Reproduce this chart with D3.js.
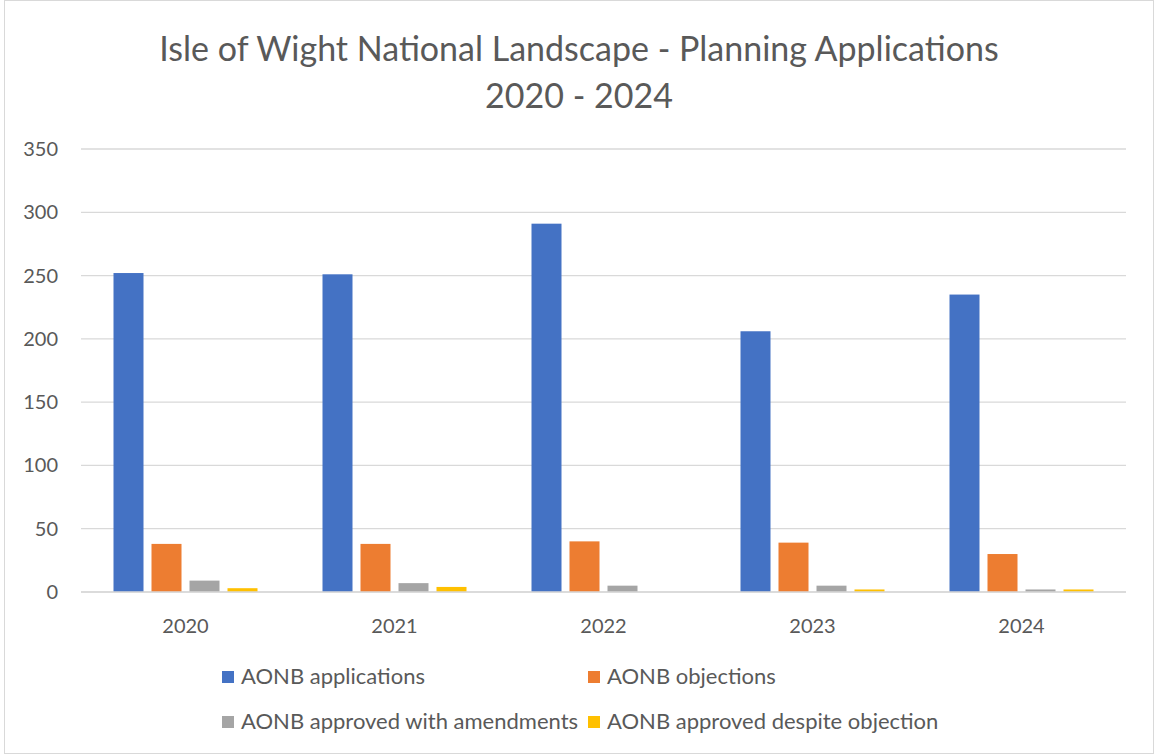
<!DOCTYPE html>
<html>
<head>
<meta charset="utf-8">
<script src="https://cdn.jsdelivr.net/npm/d3@7"></script>
<style>
  body { margin: 0; background: #fff; }
  text { font-family: Lato, "Open Sans", sans-serif; fill: #595959; }
</style>
</head>
<body>
<svg id="chart" width="1155" height="755"></svg>
<script>
const years = ["2020", "2021", "2022", "2023", "2024"];
const series_names = ["AONB applications", "AONB objections", "AONB approved with amendments", "AONB approved despite objection"];
const series_colors = ["#4472C4", "#ED7D31", "#A5A5A5", "#FFC000"];
const applications = [252, 251, 291, 206, 235];
const objections = [38, 38, 40, 39, 30];
const approved_amend = [9, 7, 5, 5, 2];
const approved_despite = [3, 4, 0, 2, 2];
const y_ticks = [0, 50, 100, 150, 200, 250, 300, 350];
const title_lines = ["Isle of Wight National Landscape - Planning Applications", "2020 - 2024"];

const all_values = [applications, objections, approved_amend, approved_despite];

const svg = d3.select("#chart");
const plot_left = 81, plot_right = 1126, plot_top = 149, plot_bottom = 592;

// chart border
svg.append("rect")
	.attr("x", 4.5).attr("y", 0.5).attr("width", 1149).attr("height", 753)
	.style("fill", "none").style("stroke", "#d9d9d9");

svg.selectAll(".title").data(title_lines).enter()
	.append("text")
	.attr("class", "title")
	.attr("x", 579)
	.attr("y", (d, i) => 61 + i * 47)
	.attr("text-anchor", "middle")
	.style("font-size", "34px")
	.text(d => d);

const y = d3.scaleLinear().domain([0, 350]).range([plot_bottom, plot_top]);
const x0 = d3.scaleBand().domain(years).range([plot_left, plot_right]);
const x1 = d3.scaleBand().domain(d3.range(4))
	.range([32.5, x0.bandwidth() - 32.5]).paddingInner(8/38);

// grid
svg.selectAll(".grid").data(y_ticks).enter()
	.append("line")
	.attr("x1", plot_left).attr("x2", plot_right)
	.attr("y1", d => y(d)).attr("y2", d => y(d))
	.style("stroke", "#d9d9d9").style("stroke-width", 1.3);

svg.selectAll(".ytick").data(y_ticks).enter()
	.append("text")
	.attr("x", 58).attr("y", d => y(d) + 7)
	.attr("text-anchor", "end")
	.style("font-size", "20px")
	.text(d => d);

const groups = svg.selectAll(".grp").data(years).enter()
	.append("g")
	.attr("transform", d => `translate(${x0(d)},0)`);

groups.selectAll("rect")
	.data((yr, yi) => all_values.map((arr, si) => ({si, v: arr[yi]})))
	.enter()
	.append("rect")
	.attr("x", d => x1(d.si))
	.attr("width", x1.bandwidth())
	.attr("y", d => y(d.v))
	.attr("height", d => y(0) - y(d.v))
	.style("fill", d => series_colors[d.si]);

// baseline redraw over bars
svg.append("line")
	.attr("x1", plot_left).attr("x2", plot_right)
	.attr("y1", y(0)).attr("y2", y(0))
	.style("stroke", "#d9d9d9").style("stroke-width", 1.3);

svg.selectAll(".xlab").data(years).enter()
	.append("text")
	.attr("x", d => x0(d) + x0.bandwidth() / 2)
	.attr("y", 633)
	.attr("text-anchor", "middle")
	.style("font-size", "20px")
	.text(d => d);

// legend
const leg_x = [222, 588];
const leg_y = [671, 716];
const legend = svg.selectAll(".leg").data(series_names).enter()
	.append("g")
	.attr("transform", (d, i) => `translate(${leg_x[i % 2]},${leg_y[Math.floor(i / 2)]})`);
legend.append("rect")
	.attr("width", 12).attr("height", 12)
	.style("fill", (d, i) => series_colors[i]);
legend.append("text")
	.attr("x", 19).attr("y", 13)
	.style("font-size", "22px")
	.text(d => d);
</script>
</body>
</html>
